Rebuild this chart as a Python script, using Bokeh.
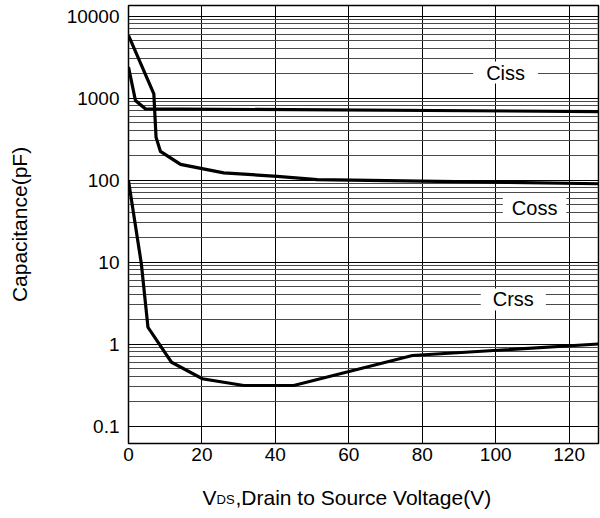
from bokeh.plotting import figure
from bokeh.models import FixedTicker, PrintfTickFormatter, Label, Range1d
from bokeh.layouts import column
from bokeh.core.properties import value
from bokeh.embed import file_html
from bokeh.resources import INLINE

# ---- data ----
v_ciss = [0, 1.9, 4.6, 128]
c_ciss = [2380, 930, 738, 684]

v_coss = [0, 6.9, 7.5, 8.7, 14.2, 25.9, 40.5, 51.4, 79.5, 128]
c_coss = [5800, 1120, 333, 223, 155, 122, 111, 101, 97, 90]

v_crss = [0, 3.5, 5.3, 11.7, 20.1, 31.4, 45.0, 77.3, 128]
c_crss = [98, 9.5, 1.6, 0.60, 0.377, 0.312, 0.312, 0.724, 1.0]

x_ticks = [0, 20, 40, 60, 80, 100, 120]
y_ticks = [0.1, 1, 10, 100, 1000, 10000]
y_minor = [m * d for d in [0.1, 1, 10, 100, 1000] for m in range(2, 10)]

series_labels = ["Ciss", "Coss", "Crss"]
label_v = [102.7, 110.6, 104.8]
label_c = [2046, 46.2, 3.49]
label_pad = [13, 9, 12]

x_title_parts = ["V", "DS", ",Drain to Source Voltage(V)"]

FONT = "Liberation Sans"
X_MAX = 128

p = figure(width=600, height=475,
           x_range=Range1d(0, X_MAX), y_range=Range1d(0.0612, 13430),
           y_axis_type="log", output_backend="svg", toolbar_location=None,
           min_border_left=128, min_border_right=2, min_border_top=5,
           min_border_bottom=32)

p.background_fill_color = "white"
p.border_fill_color = "white"
p.outline_line_color = "black"
p.outline_line_width = 1.5

# grids
p.xgrid.ticker = FixedTicker(ticks=x_ticks)
p.xgrid.grid_line_color = "black"
p.xgrid.grid_line_width = 1
p.ygrid.ticker = FixedTicker(ticks=y_ticks, minor_ticks=y_minor)
p.ygrid.grid_line_color = "black"
p.ygrid.grid_line_width = 1
p.ygrid.minor_grid_line_color = "#4a4a4a"
p.ygrid.minor_grid_line_width = 1

# axes
p.xaxis.ticker = FixedTicker(ticks=x_ticks)
p.yaxis.ticker = FixedTicker(ticks=y_ticks)
p.yaxis.formatter = PrintfTickFormatter(format="%g")
for ax in (p.xaxis[0], p.yaxis[0]):
    ax.axis_line_color = None
    ax.major_tick_line_color = None
    ax.minor_tick_line_color = None
    ax.major_tick_out = 0
    ax.major_tick_in = 0
    ax.minor_tick_out = 0
    ax.minor_tick_in = 0
    ax.major_label_text_font = FONT
    ax.major_label_text_font_size = "19px"
    ax.major_label_text_color = "black"
p.yaxis.major_label_standoff = 9
p.xaxis.major_label_standoff = 4
p.yaxis.axis_label = "Capacitance(pF)"
p.yaxis.axis_label_text_font = FONT
p.yaxis.axis_label_text_font_size = "21px"
p.yaxis.axis_label_text_font_style = "normal"
p.yaxis.axis_label_text_color = "black"
p.yaxis.axis_label_standoff = 33

# curves
for v, c in ((v_ciss, c_ciss), (v_coss, c_coss), (v_crss, c_crss)):
    p.line(v, c, line_color="black", line_width=3.2, line_join="miter")

# series labels with white boxes
for t, xv, yv, pad in zip(series_labels, label_v, label_c, label_pad):
    p.add_layout(Label(x=xv, y=yv, text=t, text_align="center",
                       text_baseline="middle", text_font=FONT,
                       text_font_size="20px", text_color="black",
                       background_fill_color="white", background_fill_alpha=1.0,
                       padding=dict(left=pad, right=pad, top=0, bottom=0)))

# x axis title (with subscript) in a strip below the chart,
# sharing the chart's horizontal borders and x scale
p2 = figure(width=600, height=43, x_range=Range1d(0, X_MAX), y_range=Range1d(43, 0),
            output_backend="svg", toolbar_location=None,
            x_axis_location=None, y_axis_location=None,
            min_border_left=128, min_border_right=2,
            min_border_top=0, min_border_bottom=0)
p2.outline_line_color = None
p2.grid.visible = False
p2.background_fill_color = "white"
p2.border_fill_color = "white"
p2.text(x=[20.15], y=[22], text=[x_title_parts[0]], text_font=value(FONT),
        text_font_size="21px", text_color="black", text_align="left",
        text_baseline="alphabetic")
p2.text(x=[23.97], y=[24], text=[x_title_parts[1]], text_font=value(FONT),
        text_font_size="13px", text_color="black", text_align="left",
        text_baseline="alphabetic")
p2.text(x=[29.14], y=[22], text=[x_title_parts[2]], text_font=value(FONT),
        text_font_size="21px", text_color="black", text_align="left",
        text_baseline="alphabetic")

layout = column(p, p2, spacing=0)
open("out.html", "w").write(file_html(layout, INLINE))
